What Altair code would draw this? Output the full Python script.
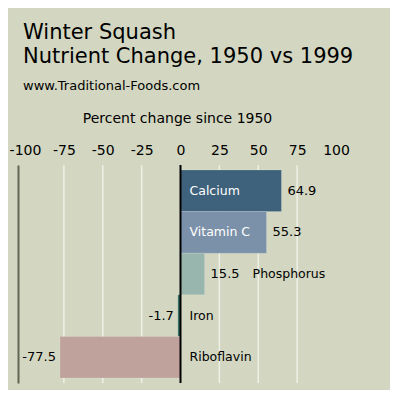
import altair as alt
import pandas as pd

nutrients = ["Calcium", "Vitamin C", "Phosphorus", "Iron", "Riboflavin"]
changes = [64.9, 55.3, 15.5, -1.7, -77.5]
bar_colors = ["#3e627b", "#7b91a9", "#98b5ae", "#2f6b5f", "#bfa29b"]
tick_values = [-100, -75, -50, -25, 0, 25, 50, 75, 100]
grid_values = [-75, -50, -25, 25, 50, 75]

FONT = "DejaVu Sans"
XTITLE = "Percent change since 1950"

df = pd.DataFrame({"nutrient": nutrients, "change": changes, "color": bar_colors})
df["label"] = df["change"].map(lambda v: f"{v:.1f}")

x_scale = alt.Scale(domain=[-104.5, 100], nice=False, zero=False)
x_axis = alt.Axis(orient="top", values=tick_values, grid=False, ticks=False,
                  tickSize=0, domain=False, labelFontSize=14, labelColor="black",
                  labelFont=FONT, labelPadding=8, labelFlush=False,
                  labelOverlap=False, labelBound=False,
                  labelExpr="'' + datum.value",
                  titleFontSize=14, titleFontWeight="normal", titleColor="black",
                  titleFont=FONT, titlePadding=18)
y_scale = alt.Scale(domain=nutrients, paddingInner=0, paddingOuter=0.12)
y_enc = alt.Y("nutrient:N", scale=y_scale, sort=nutrients,
              axis=alt.Axis(labels=False, ticks=False, title=None, domain=True,
                            domainColor="#5f6455", domainWidth=2, grid=False))


def xq(field):
    return alt.X(field, scale=x_scale, title=XTITLE, axis=x_axis)


grid = alt.Chart(pd.DataFrame({"g": grid_values})).mark_rule(
    color="#eef0e6", strokeWidth=1.5
).encode(x=xq("g:Q"))

bars = alt.Chart(df).mark_bar(stroke="white", strokeOpacity=0.15, strokeWidth=1).encode(
    x=xq("change:Q"),
    x2=alt.datum(0),
    y=y_enc,
    color=alt.Color("color:N", scale=None),
)

zero = alt.Chart(pd.DataFrame({"z": [0]})).mark_rule(color="black", strokeWidth=2).encode(
    x=xq("z:Q")
)

txt = dict(font=FONT, fontSize=13, color="black", baseline="middle")

pos_vals = alt.Chart(df).transform_filter("datum.change >= 0").mark_text(
    align="left", dx=6, **txt
).encode(x=xq("change:Q"), y=y_enc, text="label:N")

neg_vals = alt.Chart(df).transform_filter("datum.change < 0").mark_text(
    align="right", dx=-4, **txt
).encode(x=xq("change:Q"), y=y_enc, text="label:N")

name_txt = dict(font=FONT, fontSize=12.5, baseline="middle", align="left")

inside_names = alt.Chart(df).transform_filter("datum.change >= 30").mark_text(
    dx=9, color="white", **name_txt
).encode(x=xq("z:Q"), y=y_enc, text="nutrient:N").transform_calculate(z="0")

neg_names = alt.Chart(df).transform_filter("datum.change < 0").mark_text(
    dx=9, color="black", **name_txt
).encode(x=xq("z:Q"), y=y_enc, text="nutrient:N").transform_calculate(z="0")

small_names = alt.Chart(df).transform_filter("datum.change >= 0 && datum.change < 30").mark_text(
    dx=48, color="black", **name_txt
).encode(x=xq("change:Q"), y=y_enc, text="nutrient:N")

chart = alt.layer(
    grid, bars, zero, pos_vals, neg_vals, inside_names, neg_names, small_names
).properties(
    width=318,
    height=218,
    autosize=alt.AutoSizeParams(type="none"),
    padding={"left": 10, "top": 157, "right": 54, "bottom": 7},
    background="#d3d7c1",
    title=alt.Title(
        ["Winter Squash", "Nutrient Change, 1950 vs 1999"],
        subtitle="www.Traditional-Foods.com",
        anchor="start", frame="group", dx=5, offset=18,
        font=FONT, fontSize=21, fontWeight="normal", lineHeight=24, color="black",
        subtitleFont=FONT, subtitleFontSize=13, subtitleColor="black",
        subtitlePadding=13,
    ),
).configure_view(stroke=None).configure_axisX(labelOverlap=False)

chart.save("out.html", embed_options={"renderer": "svg", "actions": False})
